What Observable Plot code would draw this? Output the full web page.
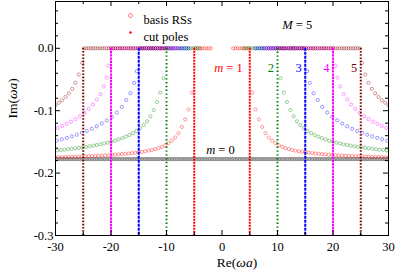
<!DOCTYPE html>
<html><head><meta charset="utf-8">
<script src="https://cdn.jsdelivr.net/npm/d3@7"></script>
<script src="https://cdn.jsdelivr.net/npm/@observablehq/plot@0.6"></script>
<style>html,body{margin:0;padding:0;background:#fff}svg{display:block}svg text{font-family:'Liberation Serif','Times New Roman',serif !important}</style>
</head><body><div id="chart"></div>
<script>
// ---- data (right half; the left half is its mirror image) ----
const orders = [1, 2, 3, 4, 5];
const colors = ["#ff0000", "#008000", "#0000ff", "#ff00ff", "#800000"];
const cutRe = [5, 10, 15, 20, 25];
const cutTop = 0, cutBottom = -0.3;
const realStart = [2, 4, 6, 8, 10];     // RSs on the real axis, |Re| from ...
const realEnd = [5, 10, 15, 20, 25];    // ... to
const realStep = 0.4;
const m0Im = -0.1775, m0From = -30, m0To = 30, m0Step = 0.3;

const rsM1 = [[5.44,-0.071],[6.04,-0.098],[6.64,-0.114],[7.24,-0.126],[7.84,-0.136],[8.44,-0.143],[9.04,-0.148],[9.64,-0.152],[10.24,-0.1555],[10.84,-0.158],[11.44,-0.160],[12.04,-0.1615],[12.64,-0.163],[13.24,-0.164],[13.84,-0.165],[14.44,-0.166],[15.04,-0.1667],[15.64,-0.1673],[16.24,-0.168],[16.84,-0.1686],[17.44,-0.169],[18.04,-0.1695],[18.64,-0.170],[19.24,-0.1704],[19.84,-0.1708],[20.44,-0.1712],[21.04,-0.1716],[21.64,-0.1719],[22.24,-0.1722],[22.84,-0.1725],[23.44,-0.1727],[24.04,-0.173],[24.64,-0.1732],[25.24,-0.1734],[25.84,-0.1736],[26.44,-0.1738],[27.04,-0.174],[27.64,-0.1741],[28.24,-0.1742],[28.84,-0.1744],[29.44,-0.1745],[30.04,-0.1746]];
const rsM2 = [[10.54,-0.048],[11.14,-0.071],[11.7,-0.086],[12.3,-0.099],[12.9,-0.109],[13.5,-0.117],[14.1,-0.123],[14.75,-0.128],[15.4,-0.1325],[16.05,-0.136],[16.7,-0.139],[17.35,-0.1415],[18.0,-0.144],[18.65,-0.146],[19.3,-0.148],[19.95,-0.1497],[20.6,-0.1512],[21.25,-0.1526],[21.9,-0.1539],[22.55,-0.155],[23.2,-0.156],[23.85,-0.157],[24.5,-0.158],[25.15,-0.1588],[25.8,-0.1596],[26.45,-0.1603],[27.1,-0.161],[27.75,-0.1617],[28.4,-0.1624],[29.05,-0.163],[29.7,-0.1636],[30.35,-0.1641]];
const rsM3 = [[15.35,-0.0367],[15.82,-0.0555],[16.5,-0.072],[17.25,-0.083],[18.05,-0.094],[18.95,-0.103],[19.86,-0.110],[20.76,-0.1155],[21.66,-0.1205],[22.56,-0.125],[23.46,-0.129],[24.36,-0.1325],[25.26,-0.1355],[26.16,-0.1385],[27.06,-0.141],[27.96,-0.1435],[28.86,-0.1458],[29.76,-0.148],[30.66,-0.15]];
const rsM4 = [[20.45,-0.028],[20.78,-0.047],[21.3,-0.061],[21.9,-0.0735],[22.55,-0.082],[23.25,-0.09],[24.0,-0.097],[24.8,-0.1035],[25.6,-0.109],[26.4,-0.1135],[27.2,-0.1175],[28.0,-0.121],[28.8,-0.1245],[29.6,-0.1275],[30.4,-0.13]];
const rsM5 = [[25.2,-0.0234],[25.8,-0.042],[26.4,-0.0553],[27.0,-0.065],[27.6,-0.0722],[28.2,-0.078],[28.8,-0.0834],[29.4,-0.0872],[30.0,-0.091]];
const curves = [rsM1, rsM2, rsM3, rsM4, rsM5];

const xTicksMajor = [-30, -20, -10, 0, 10, 20, 30];
const xTicksMinor = [-25, -15, -5, 5, 15, 25];
const yTicksMajor = [0, -0.1, -0.2, -0.3];
const yTicksMinor = [0.06, 0.04, 0.02, -0.02, -0.04, -0.06, -0.08, -0.12, -0.14, -0.16, -0.18, -0.22, -0.24, -0.26, -0.28];
const cutDash = ["2,1", "1.4,2.4", "3,1", "2.4,0.8", "1.6,1.6"];

// ---- tables ----
const rs = [];
orders.forEach((m, i) => {
  d3.range(realStart[i], realEnd[i] + 1e-9, realStep).forEach(re => {
    rs.push({re, im: 0, c: colors[i]});
    rs.push({re: -re, im: 0, c: colors[i]});
  });
  curves[i].forEach(([re, im]) => {
    rs.push({re, im, c: colors[i]});
    rs.push({re: -re, im, c: colors[i]});
  });
});
const m0Row = d3.range(m0From, m0To + 1e-9, m0Step).map(re => ({re, im: m0Im}));
const cuts = orders.map((m, i) => ({m, c: colors[i], dash: cutDash[i], re: cutRe[i]}));

const W = 399, H = 275, mL = 55, mR = 11, mT = 1, mB = 40;
const fw = W - mL - mR, fh = H - mT - mB;
const font = "'Liberation Serif', 'Times New Roman', serif";

const marks = [
  Plot.dot(m0Row, {x: "re", y: "im", r: 1.6, stroke: "#000", strokeOpacity: 0.55, strokeWidth: 0.6, clip: true}),
  Plot.dot(rs, {x: "re", y: "im", r: 1.6, stroke: "c", strokeOpacity: 0.55, strokeWidth: 0.7, clip: true}),
];
for (const c of cuts) {
  for (const s of [1, -1]) {
    marks.push(Plot.ruleX([c], {x: d => s * d.re, y1: cutTop, y2: cutBottom, stroke: c.c, strokeWidth: 2, strokeDasharray: c.dash, clip: true}));
  }
}
marks.push(
  // inner ticks
  Plot.ruleX(xTicksMajor, {insetTop: fh - 5, stroke: "#000"}),
  Plot.ruleX(xTicksMinor, {insetTop: fh - 3, stroke: "#000"}),
  Plot.ruleX(xTicksMajor, {insetBottom: fh - 5, stroke: "#000"}),
  Plot.ruleX(xTicksMinor, {insetBottom: fh - 3, stroke: "#000"}),
  Plot.ruleY(yTicksMajor, {insetRight: fw - 5, stroke: "#000"}),
  Plot.ruleY(yTicksMinor, {insetRight: fw - 3, stroke: "#000"}),
  Plot.ruleY(yTicksMajor, {insetLeft: fw - 5, stroke: "#000"}),
  Plot.ruleY(yTicksMinor, {insetLeft: fw - 3, stroke: "#000"}),
  Plot.frame({stroke: "#000", strokeWidth: 1}),
  Plot.axisX(xTicksMajor, {anchor: "bottom", tickSize: 0, tickPadding: 7, tickFormat: d => String(d), label: null, fontSize: 12.5, fontFamily: font, fontVariant: "normal", fill: "#000"}),
  Plot.axisY(yTicksMajor, {anchor: "left", tickSize: 0, tickPadding: 2, tickFormat: d => d.toFixed(1), label: null, fontSize: 12.5, fontFamily: font, fontVariant: "normal", fill: "#000"}),
  Plot.text(["Re(ωa)"], {frameAnchor: "bottom", dx: 15, dy: 31, fontSize: 13.5, fontFamily: font, fill: "#000"}),
  Plot.text(["Im(ωa)"], {frameAnchor: "left", dx: -43, rotate: -90, fontSize: 13.5, fontFamily: font, fill: "#000"}),
  // legend
  Plot.dot([0], {frameAnchor: "top-left", dx: 75, dy: 14, r: 2, stroke: "#ff0000", strokeOpacity: 0.6, strokeWidth: 0.8}),
  Plot.text(["basis RSs"], {frameAnchor: "top-left", dx: 88, dy: 14, textAnchor: "start", fontSize: 12.5, fontFamily: font, fill: "#000"}),
  Plot.dot([0], {frameAnchor: "top-left", dx: 75, dy: 31, r: 1.2, fill: "#ff0000"}),
  Plot.text(["cut poles"], {frameAnchor: "top-left", dx: 88, dy: 31, textAnchor: "start", fontSize: 12.5, fontFamily: font, fill: "#000"}),
  Plot.text(["M = 5"], {frameAnchor: "top-left", dx: 226.7, dy: 18.3, fontSize: 12.5, fontFamily: font, fill: "#000"}),
  Plot.text(cuts.slice(0, 1), {x: "re", frameAnchor: "top", dy: 62, dx: -7, textAnchor: "end", text: d => "m = " + d.m, fill: "c", fontSize: 12.5, fontFamily: font}),
  Plot.text(cuts.slice(1), {x: "re", frameAnchor: "top", dy: 62, dx: -3.5, textAnchor: "end", text: d => String(d.m), fill: "c", fontSize: 12.5, fontFamily: font}),
  Plot.text([{re: 0, im: m0Im}], {x: "re", y: "im", dy: -9.5, dx: -1.5, text: () => "m = 0", fill: "#000", fontSize: 12.5, fontFamily: font})
);

const chart = Plot.plot({
  width: W, height: H,
  marginLeft: mL, marginRight: mR, marginTop: mT, marginBottom: mB,
  x: {domain: [-30, 30]},
  y: {domain: [-0.3, 0.075]},
  color: {type: "identity"},
  style: {fontFamily: font, background: "#fff", color: "#000"},
  marks
});

chart.querySelectorAll("text").forEach(t => {
  t.setAttribute("font-family", font);
  const s = t.textContent;
  let m;
  if ((m = s.match(/^([mM])( = \d)$/))) t.innerHTML = `<tspan font-style="italic">${m[1]}</tspan>${m[2]}`;
  else if ((m = s.match(/^(Im|Re)\(ωa\)$/))) t.innerHTML = `${m[1]}(<tspan font-style="italic">ωa</tspan>)`;
});
document.getElementById("chart").appendChild(chart);
</script>
</body></html>
